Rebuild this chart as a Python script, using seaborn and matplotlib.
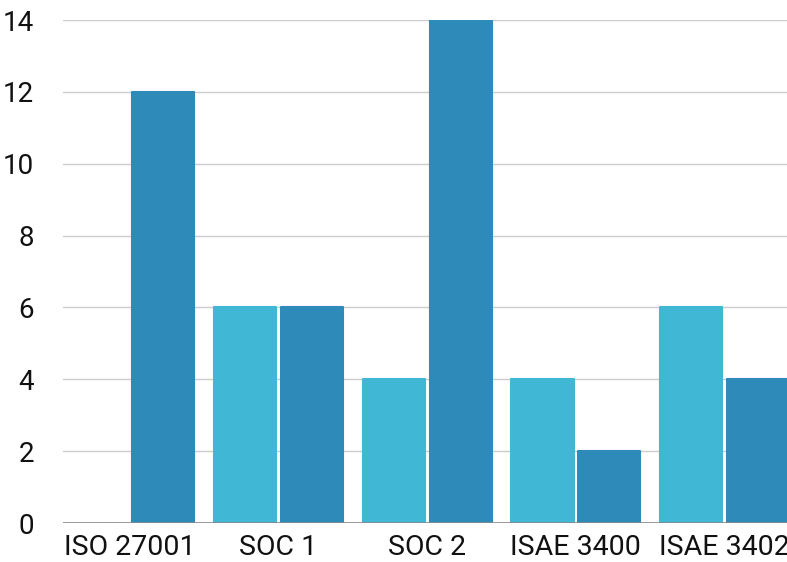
import matplotlib
matplotlib.use("Agg")
import matplotlib.pyplot as plt
import pandas as pd
import seaborn as sns

categories = ["ISO 27001", "SOC 1", "SOC 2", "ISAE 3400", "ISAE 3402"]
series_a = [0, 6, 4, 4, 6]
series_b = [12, 6, 14, 2, 4]
series_names = ["A", "B"]
colors = ["#41B7D6", "#2E8BB9"]

df = pd.DataFrame({
    "category": categories * 2,
    "value": series_a + series_b,
    "series": [series_names[0]] * len(categories) + [series_names[1]] * len(categories),
})

sns.set_style("white")
plt.rcParams["font.family"] = ["Roboto", "DejaVu Sans"]

fig = plt.figure(figsize=(7.87, 5.62), dpi=100)
ax = fig.add_axes([63 / 787, 39 / 562, 1 - 63 / 787, 503 / 562])

sns.barplot(data=df, x="category", y="value", hue="series", palette=colors,
            saturation=1, width=0.9, gap=0.07, legend=False, ax=ax, zorder=3)

# slightly rounded corners
for p in ax.patches:
    if p.get_height() == 0:
        p.set_visible(False)
        continue
    p.set_edgecolor(p.get_facecolor())
    p.set_linewidth(1.5)
    p.set_joinstyle("round")

ax.set_ylim(0, 14)
ax.set_xlim(-0.45, 4.42)
ax.set_yticks(range(0, 15, 2))
ax.yaxis.grid(True, color="#cccccc", linewidth=1, zorder=0)
ax.axhline(0, color="#888888", linewidth=1.2, zorder=4)
for s in ax.spines.values():
    s.set_visible(False)
ax.set_xlabel("")
ax.set_ylabel("")
ax.tick_params(axis="y", length=0, pad=21, labelsize=20, labelcolor="#111111")
ax.tick_params(axis="x", length=0, pad=8, labelsize=20.5, labelcolor="#111111")

fig.savefig("out.png", dpi=100)
